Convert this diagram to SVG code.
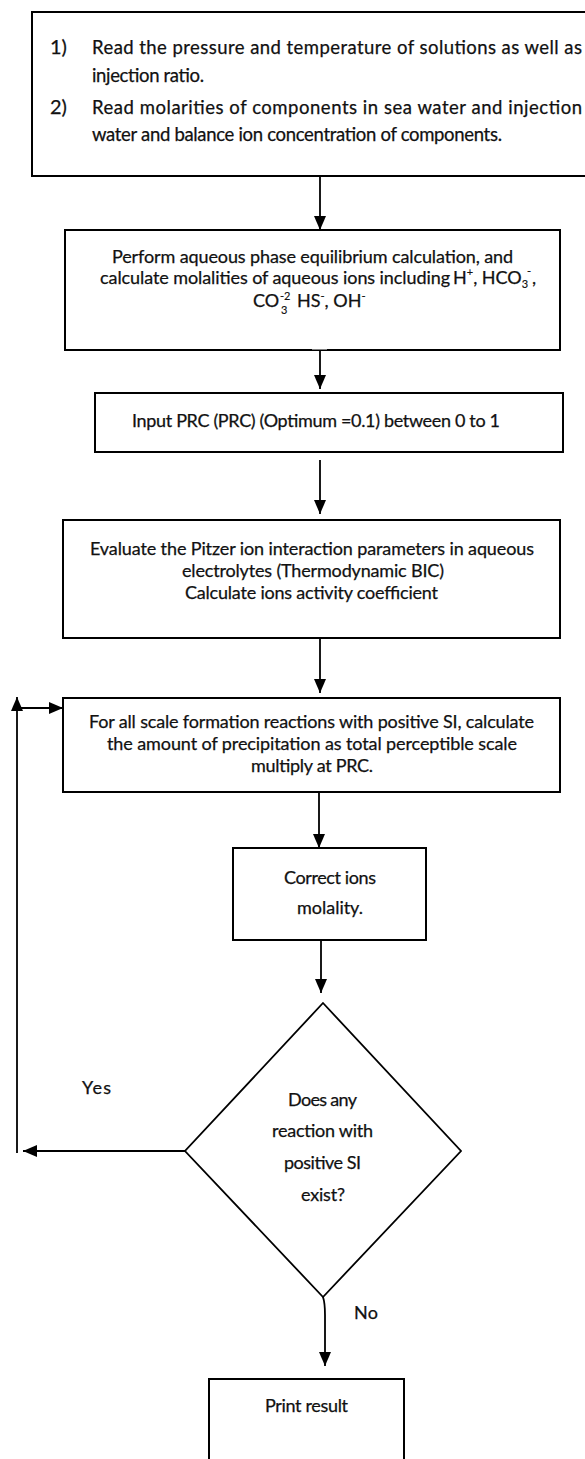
<svg xmlns="http://www.w3.org/2000/svg" width="585" height="1459" viewBox="0 0 585 1459">
<style>
.box{fill:#fff;stroke:#000;stroke-width:2}
.ln{fill:none;stroke:#000;stroke-width:1.8}
text{font-family:Lato,"Liberation Sans",sans-serif;font-size:18px;fill:#111;stroke:#111;stroke-width:0.25}
.big{font-size:18.5px}
.num{font-size:20px}
.sm{font-size:11px;stroke-width:0.15}
</style>
<defs>
<marker id="ah" markerWidth="14" markerHeight="14" refX="14" refY="7" orient="auto" markerUnits="userSpaceOnUse"><path d="M0,1 L14,7 L0,13 z" fill="#000"/></marker>
</defs>
<rect width="585" height="1459" fill="#fff"/>

<g id="n1">
<rect class="box" x="32" y="12" width="570" height="164"/>
<text class="num" x="50" y="54">1)</text>
<text class="big" x="92" y="54" textLength="490" lengthAdjust="spacing">Read the pressure and temperature of solutions as well as</text>
<text class="big" x="92" y="82" textLength="112" lengthAdjust="spacing">injection ratio.</text>
<text class="num" x="50" y="114">2)</text>
<text class="big" x="92" y="114" textLength="490" lengthAdjust="spacing">Read molarities of components in sea water and injection</text>
<text class="big" x="92" y="141" textLength="410" lengthAdjust="spacing">water and balance ion concentration of components.</text>
</g>

<g id="n2">
<rect class="box" x="65" y="230" width="495" height="120"/>
<rect x="312" y="346.5" width="15" height="3" fill="#fff"/>
<text x="112" y="263" textLength="401" lengthAdjust="spacing">Perform aqueous phase equilibrium calculation, and</text>
<text x="100" y="284" textLength="350" lengthAdjust="spacing">calculate molalities of aqueous ions including</text>
<text x="453" y="284">H<tspan class="sm" dy="-8">+</tspan><tspan dy="8">, HCO</tspan><tspan class="sm" dy="4">3</tspan><tspan class="sm" x="527" dy="-13">-</tspan><tspan x="532" dy="9">,</tspan></text>
<text x="253" y="307">CO<tspan class="sm" x="280" dy="-7">-2</tspan><tspan class="sm" x="281" dy="14">3</tspan><tspan x="297" dy="-7">HS</tspan><tspan class="sm" dy="-7">-</tspan><tspan dy="7">, OH</tspan><tspan class="sm" dy="-7">-</tspan></text>
</g>

<g id="n3">
<rect class="box" x="95" y="393" width="468" height="59"/>
<text x="132" y="427" textLength="368" lengthAdjust="spacing">Input PRC (PRC) (Optimum =0.1) between 0 to 1</text>
</g>

<g id="n4">
<rect class="box" x="63" y="520" width="497" height="118"/>
<text x="90" y="555" textLength="444" lengthAdjust="spacing">Evaluate the Pitzer ion interaction parameters in aqueous</text>
<text x="182" y="577" textLength="262" lengthAdjust="spacing">electrolytes (Thermodynamic BIC)</text>
<text x="185" y="599" textLength="253" lengthAdjust="spacing">Calculate ions activity coefficient</text>
</g>

<g id="n5">
<rect class="box" x="63" y="698" width="497" height="94"/>
<text x="89" y="728" textLength="445" lengthAdjust="spacing">For all scale formation reactions with positive SI, calculate</text>
<text x="107" y="750" textLength="410" lengthAdjust="spacing">the amount of precipitation as total perceptible scale</text>
<text x="251" y="772" textLength="122" lengthAdjust="spacing">multiply at PRC.</text>
</g>

<g id="n6">
<rect class="box" x="233" y="848" width="193" height="92"/>
<text x="284" y="884" textLength="92" lengthAdjust="spacing">Correct ions</text>
<text x="297" y="914" textLength="66" lengthAdjust="spacing">molality.</text>
</g>

<g id="n7">
<path class="box" d="M323,1003 L461,1151 L323,1297 L185,1151 Z" style="stroke-width:1.8"/>
<text x="288" y="1106" textLength="69" lengthAdjust="spacing">Does any</text>
<text x="272" y="1137" textLength="101" lengthAdjust="spacing">reaction with</text>
<text x="284" y="1169" textLength="77" lengthAdjust="spacing">positive SI</text>
<text x="301" y="1201" textLength="44" lengthAdjust="spacing">exist?</text>
</g>

<g id="n8">
<rect class="box" x="209" y="1379" width="195" height="100"/>
<text x="265" y="1412" textLength="83" lengthAdjust="spacing">Print result</text>
</g>

<g id="labels">
<text x="82" y="1094" textLength="29" lengthAdjust="spacing">Yes</text>
<text x="354" y="1319" textLength="24" lengthAdjust="spacing">No</text>
</g>

<g id="connectors">
<path class="ln" d="M320,176 V230" marker-end="url(#ah)"/>
<path class="ln" d="M320,351 V389" marker-end="url(#ah)"/>
<path class="ln" d="M320,460 V514" marker-end="url(#ah)"/>
<path class="ln" d="M320,638 V693" marker-end="url(#ah)"/>
<path class="ln" d="M319,792 V848" marker-end="url(#ah)"/>
<path class="ln" d="M321,940 V993" marker-end="url(#ah)"/>
<path class="ln" d="M185,1151 H23" marker-end="url(#ah)"/>
<path class="ln" d="M17,1153 V697" marker-end="url(#ah)"/>
<path class="ln" d="M21,708 H63" marker-end="url(#ah)"/>
<path class="ln" d="M323,1297 Q325,1303 325,1315 V1366" marker-end="url(#ah)"/>
</g>
</svg>
